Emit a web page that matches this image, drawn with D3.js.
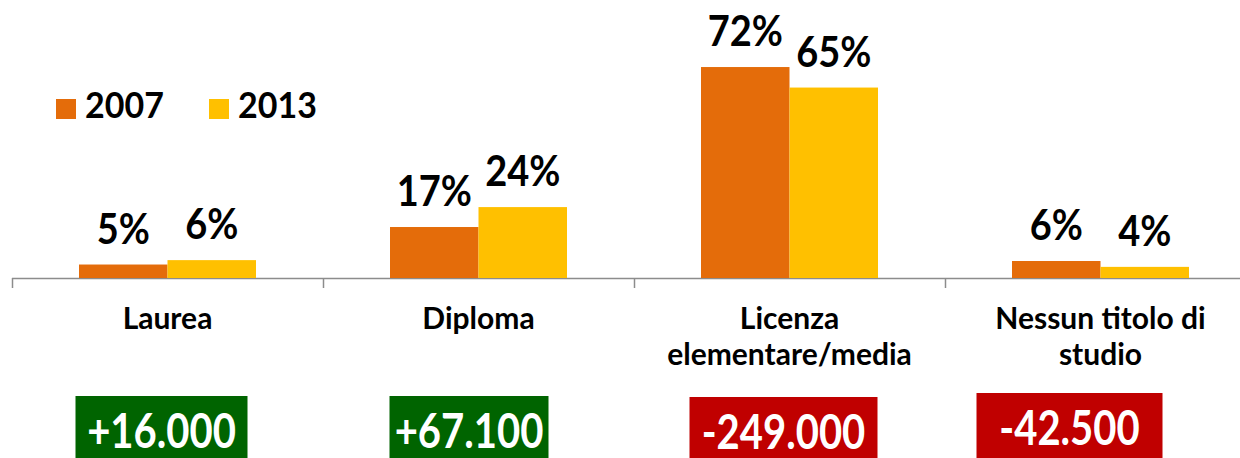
<!DOCTYPE html>
<html><head><meta charset="utf-8">
<script src="https://cdn.jsdelivr.net/npm/d3@7"></script>
<style>html,body{margin:0;padding:0;background:#fff;overflow:hidden}</style>
</head><body>
<svg id="c" width="1240" height="458"></svg>
<script>
const categories = ["Laurea", "Diploma", "Licenza\nelementare/media", "Nessun titolo di\nstudio"];
const series = ["2007", "2013"];
const values2007 = [4.6, 17.4, 72, 5.8];
const values2013 = [6.1, 24.2, 65, 3.8];
const changes = ["+16.000", "+67.100", "-249.000", "-42.500"];
const colors = ["#E46C0A", "#FFC000"];
const boxLayout = [
  {dx: -6, w: 172, top: 396}, {dx: -9.5, w: 159, top: 396},
  {dx: -6, w: 188, top: 397}, {dx: -31, w: 186, top: 393}];

const svg = d3.select("#c");
const font = "Lato, 'Open Sans', sans-serif";
const x = d3.scaleBand().domain(categories).range([12, 1256]).padding(0);
const xs = d3.scaleBand().domain(series).range([-88.5, 88.5]);
const y = d3.scaleLinear().domain([0, 80]).range([278, 278 - 80 * 2.93]);

const data = categories.map((c, i) => series.map((s, j) => ({c, s, j, v: [values2007, values2013][j][i]}))).flat();

// axis
svg.append("line").attr("x1", 12).attr("x2", 1240).attr("y1", y(0) + 0.5).attr("y2", y(0) + 0.5)
  .attr("stroke", "#8c8c8c").attr("stroke-width", 1.5);
categories.forEach(c => {
  svg.append("line").attr("x1", x(c) + 0.5).attr("x2", x(c) + 0.5).attr("y1", y(0)).attr("y2", y(0) + 10)
    .attr("stroke", "#8c8c8c").attr("stroke-width", 1.5);
});

const cx = c => x(c) + x.bandwidth() / 2;

svg.selectAll("rect.bar").data(data).enter().append("rect").attr("class", "bar")
  .attr("x", d => cx(d.c) + xs(d.s)).attr("width", xs.bandwidth())
  .attr("y", d => y(d.v)).attr("height", d => y(0) - y(d.v))
  .attr("fill", d => colors[d.j]);

svg.selectAll("text.val").data(data).enter().append("text").attr("class", "val")
  .attr("transform", d => `translate(${cx(d.c) + xs(d.s) + xs.bandwidth() / 2},${y(d.v) - 21}) scale(1,1.08)`)
  .attr("text-anchor", "middle").attr("font-family", font).attr("font-weight", 700)
  .attr("font-size", 38).attr("fill", "#000").text(d => Math.round(d.v) + "%");

// category labels
categories.forEach(c => {
  const lines = c.split("\n");
  lines.forEach((l, k) => svg.append("text").attr("text-anchor", "middle").attr("font-family", font)
    .attr("font-weight", 700).attr("font-size", 30).attr("fill", "#000")
    .attr("x", cx(c)).attr("y", 329 + k * 36).text(l));
});

// legend
series.forEach((s, j) => {
  const lx = 56 + j * 153;
  svg.append("rect").attr("x", lx).attr("y", 99).attr("width", 20).attr("height", 20).attr("fill", colors[j]);
  svg.append("text").attr("transform", `translate(${lx + 29},118) scale(1,1.08)`).attr("font-family", font).attr("font-weight", 700)
    .attr("font-size", 34).attr("fill", "#000").text(s);
});

// change boxes
changes.forEach((t, i) => {
  const b = boxLayout[i];
  const c = cx(categories[i]) + b.dx;
  const fill = t.startsWith("+") ? "#006400" : "#C00000";
  svg.append("rect").attr("x", c - b.w / 2).attr("y", b.top).attr("width", b.w).attr("height", 458 - b.top).attr("fill", fill);
  svg.append("text").attr("transform", `translate(${c},${b.top + 52}) scale(1,1.2)`).attr("text-anchor", "middle").attr("font-family", font)
    .attr("font-weight", 700).attr("font-size", 40).attr("fill", "#fff").text(t);
});
</script>
</body></html>
